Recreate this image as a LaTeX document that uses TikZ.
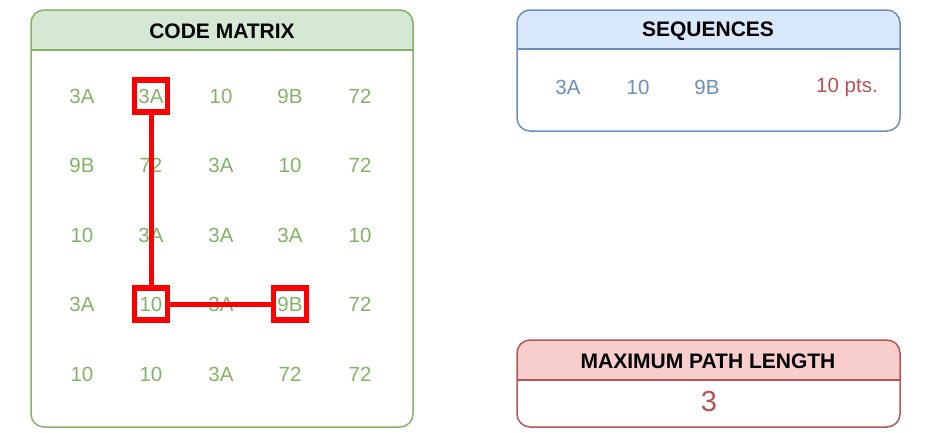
\documentclass[tikz,border=0pt]{standalone}
\usepackage{fontspec}
\setmainfont{Liberation Sans}
\definecolor{gstroke}{HTML}{82B366}
\definecolor{gfill}{HTML}{D5E8D4}
\definecolor{bstroke}{HTML}{6C8EBF}
\definecolor{bfill}{HTML}{DAE8FC}
\definecolor{rstroke}{HTML}{B85450}
\definecolor{rfill}{HTML}{F8CECC}
\definecolor{hot}{HTML}{FF0000}
\tikzset{
  cell/.style={text=gstroke, font=\fontsize{20.5}{24}\selectfont, inner sep=0pt, anchor=center},
  seqtxt/.style={text=bstroke, font=\fontsize{20.5}{24}\selectfont, inner sep=0pt},
  ptstxt/.style={text=rstroke, font=\fontsize{20.5}{24}\selectfont, inner sep=0pt},
  title/.style={font=\bfseries\fontsize{21}{24}\selectfont, text=black, inner sep=0pt},
  pick/.style={draw=hot, line width=5.5pt, minimum width=33pt, minimum height=32pt, inner sep=0pt},
  link/.style={draw=hot, line width=5pt},
  panel/.style={line width=1.5pt, rounded corners=13pt},
}
\begin{document}
\begin{tikzpicture}[x=1pt,y=-1pt]
\useasboundingbox (0,0) rectangle (950,432);
% CODE MATRIX panel
\begin{scope}
\clip[rounded corners=13pt] (31,10) rectangle (413,427);
\fill[white] (31,10) rectangle (413,427);
\fill[gfill] (31,10) rectangle (413,50);
\end{scope}
\draw[gstroke, line width=1.5pt] (31,50) -- (413,50);
\draw[gstroke, panel] (31,10) rectangle (413,427);
\node[title] (cmtitle) at (222,31.5) {CODE MATRIX};
% SEQUENCES panel
\begin{scope}
\clip[rounded corners=13pt] (517,10) rectangle (900,131);
\fill[white] (517,10) rectangle (900,131);
\fill[bfill] (517,10) rectangle (900,49);
\end{scope}
\draw[bstroke, line width=1.5pt] (517,49) -- (900,49);
\draw[bstroke, panel] (517,10) rectangle (900,131);
\node[title] (sqtitle) at (708,31.5) {SEQUENCES};
\node[seqtxt] (s1) at (568,87) {3A};
\node[seqtxt] (s2) at (638,87) {10};
\node[seqtxt] (s3) at (707,87) {9B};
\node[ptstxt] (pts) at (847,87) {10 pts.};
% MAXIMUM PATH LENGTH panel
\begin{scope}
\clip[rounded corners=13pt] (517,340) rectangle (900,427);
\fill[white] (517,340) rectangle (900,427);
\fill[rfill] (517,340) rectangle (900,380);
\end{scope}
\draw[rstroke, line width=1.5pt] (517,380) -- (900,380);
\draw[rstroke, panel] (517,340) rectangle (900,427);
\node[title] (mptitle) at (708,361.5) {MAXIMUM PATH LENGTH};
\node[text=rstroke, font=\fontsize{29}{32}\selectfont, inner sep=0pt] (mpval) at (709,402) {3};
% matrix cells
\foreach \r/\y/\a/\b/\c/\d/\e in {1/96/3A/3A/10/9B/72, 2/165/9B/72/3A/10/72, 3/235/10/3A/3A/3A/10, 4/304/3A/10/3A/9B/72, 5/374/10/10/3A/72/72}{
  \node[cell] (c\r-1) at (82,\y) {\a};
  \node[cell] (c\r-2) at (151,\y) {\b};
  \node[cell] (c\r-3) at (221,\y) {\c};
  \node[cell] (c\r-4) at (290,\y) {\d};
  \node[cell] (c\r-5) at (360,\y) {\e};
}
% path
\node[pick] (p1) at (c1-2) {};
\node[pick] (p2) at (c4-2) {};
\node[pick] (p3) at (c4-4) {};
\draw[link] (p1.south) -- (p2.north);
\draw[link] (p2.east) -- (p3.west);
\end{tikzpicture}
\end{document}
